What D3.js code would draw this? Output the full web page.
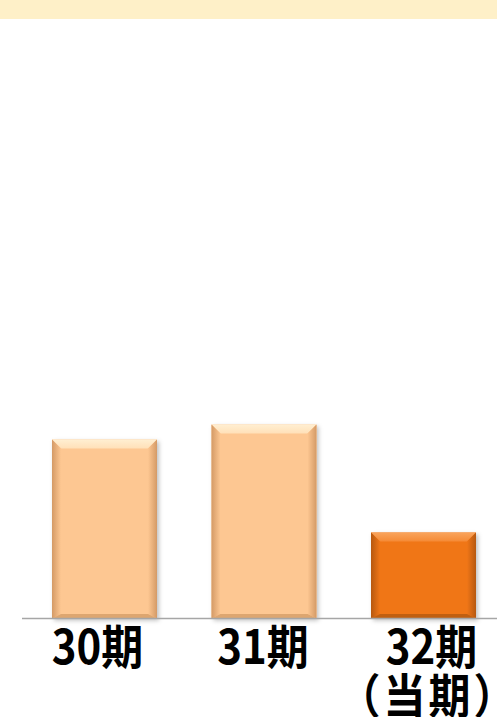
<!DOCTYPE html>
<html><head><meta charset="utf-8">
<script src="https://cdn.jsdelivr.net/npm/d3@7"></script>
<style>html,body{margin:0;padding:0;background:#fff;}svg{display:block;}</style>
</head><body>
<script>
const categories = ["30期", "31期", "32期"];
const subLabels = ["", "", "（当期）"];
const values = [179, 194, 86];
const current = [false, false, true];

const W = 497, H = 717;
const svg = d3.select("body").append("svg").attr("width", W).attr("height", H);
const defs = svg.append("defs");

// top band
svg.append("rect").attr("x", 0).attr("y", 0).attr("width", W).attr("height", 19).attr("fill", "#FEF0C8");

const x = d3.scaleBand().domain(categories).range([4.15, 523.85]).paddingInner(0.3417).paddingOuter(0.3);
const y = d3.scaleLinear().domain([0, 598]).range([618.5, 20.5]);

const pal = {
  light: {base: "#FDC792", top: "#FFEFD2", topMid: "#FFE0B8", side: "#D49A66", bottom: "#C8905A"},
  dark:  {base: "#F07617", top: "#F9A45C", topMid: "#F58A35", side: "#B65810", bottom: "#A0500E"}
};

["light", "dark"].forEach(k => {
  const p = pal[k];
  const gL = defs.append("linearGradient").attr("id", "side-l-" + k).attr("x1", 0).attr("x2", 1).attr("y1", 0).attr("y2", 0);
  gL.append("stop").attr("offset", 0).attr("stop-color", p.side);
  gL.append("stop").attr("offset", 1).attr("stop-color", p.base);
  const gR = defs.append("linearGradient").attr("id", "side-r-" + k).attr("x1", 0).attr("x2", 1).attr("y1", 0).attr("y2", 0);
  gR.append("stop").attr("offset", 0).attr("stop-color", p.base);
  gR.append("stop").attr("offset", 1).attr("stop-color", p.side);
  const gT = defs.append("linearGradient").attr("id", "top-" + k).attr("x1", 0).attr("x2", 0).attr("y1", 0).attr("y2", 1);
  gT.append("stop").attr("offset", 0).attr("stop-color", p.top);
  gT.append("stop").attr("offset", 1).attr("stop-color", p.topMid);
});
const filt = defs.append("filter").attr("id", "shadow").attr("x", "-10%").attr("y", "-10%").attr("width", "130%").attr("height", "130%");
filt.append("feDropShadow").attr("dx", 2).attr("dy", 2).attr("stdDeviation", 2).attr("flood-color", "#000").attr("flood-opacity", 0.25);

const g = svg.append("g");
categories.forEach((c, i) => {
  const k = current[i] ? "dark" : "light";
  const p = pal[k];
  const x0 = x(c), bw = x.bandwidth();
  const y0 = y(values[i]), y1 = y(0);
  const bh = y1 - y0;
  const bg = g.append("g");
  bg.append("rect").attr("x", x0).attr("y", y0).attr("width", bw).attr("height", bh)
    .attr("fill", p.base).attr("filter", "url(#shadow)");
  const b = 9;
  bg.append("path").attr("d", `M${x0},${y0}L${x0 + bw},${y0}L${x0 + bw - b},${y0 + b}L${x0 + b},${y0 + b}Z`)
    .attr("fill", `url(#top-${k})`);
  bg.append("path").attr("d", `M${x0},${y0}L${x0 + b},${y0 + b}L${x0 + b},${y1 - b / 2}L${x0},${y1}Z`)
    .attr("fill", `url(#side-l-${k})`);
  bg.append("path").attr("d", `M${x0 + bw},${y0}L${x0 + bw - b},${y0 + b}L${x0 + bw - b},${y1 - b / 2}L${x0 + bw},${y1}Z`)
    .attr("fill", `url(#side-r-${k})`);
  bg.append("path").attr("d", `M${x0},${y1}L${x0 + b},${y1 - b / 2}L${x0 + bw - b},${y1 - b / 2}L${x0 + bw},${y1}Z`)
    .attr("fill", p.bottom).attr("opacity", 0.6);
});

svg.append("line").attr("x1", 22).attr("x2", W).attr("y1", y(0)).attr("y2", y(0))
  .attr("stroke", "#A6A6A6").attr("stroke-width", 1.5);

const labelShift = [-7, -1, 8];
const lab = svg.append("g").attr("font-family", "'Noto Sans CJK JP', sans-serif").attr("font-weight", "bold")
  .attr("font-size", 42).attr("fill", "#000").attr("text-anchor", "middle");
categories.forEach((c, i) => {
  const cx = x(c) + x.bandwidth() / 2 + labelShift[i];
  lab.append("text").attr("transform", `translate(${cx},664) scale(1,1.12)`).text(c);
  if (subLabels[i]) lab.append("text").attr("transform", `translate(${cx - 3},713) scale(1,1.12)`)
    .attr("letter-spacing", 3).text(subLabels[i]);
});
</script>
</body></html>
